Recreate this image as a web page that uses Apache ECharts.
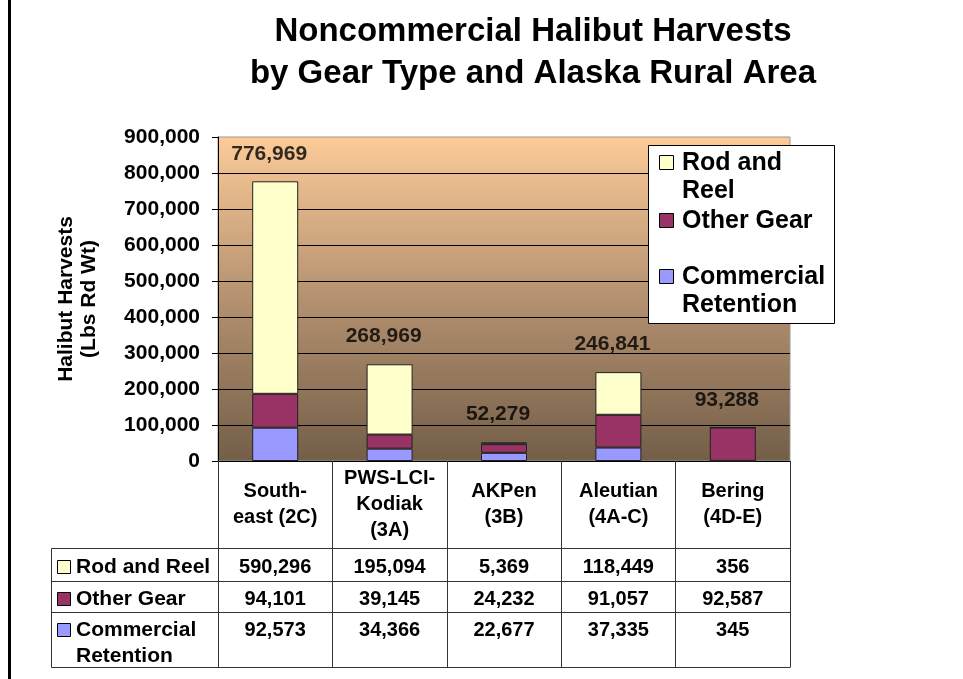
<!DOCTYPE html>
<html>
<head>
<meta charset="utf-8">
<script src="https://cdn.jsdelivr.net/npm/echarts@6/dist/echarts.min.js"></script>
<style>
html,body{margin:0;padding:0;background:#fff;}
#chart{width:963px;height:679px;}
</style>
</head>
<body>
<div id="chart"></div>
<script>
const categories = ['South-\neast (2C)', 'PWS-LCI-\nKodiak\n(3A)', 'AKPen\n(3B)', 'Aleutian\n(4A-C)', 'Bering\n(4D-E)'];
const rodAndReel = [590296, 195094, 5369, 118449, 356];
const otherGear = [94101, 39145, 24232, 91057, 92587];
const commercialRetention = [92573, 34366, 22677, 37335, 345];
const totals = [776969, 268969, 52279, 246841, 93288];
const yMin = 0, yMax = 900000, yInterval = 100000;

const FONT = 'Liberation Sans, Arial, sans-serif';
const colors = { rod: '#FFFFCC', other: '#993366', comm: '#9999FF' };
const fmt = v => v.toLocaleString('en-US');

const chart = echarts.init(document.getElementById('chart'));
const barStyle = c => ({ color: c, borderColor: '#222', borderWidth: 1 });

chart.setOption({
  animation: false,
  title: {
    text: 'Noncommercial Halibut Harvests\nby Gear Type and Alaska Rural Area',
    left: 528, top: 6, textAlign: 'center',
    textStyle: { fontFamily: FONT, fontSize: 33, fontWeight: 'bold', color: '#000', lineHeight: 42 }
  },
  grid: {
    left: 218, right: 173, top: 137, bottom: 218,
    show: true, borderColor: '#999', borderWidth: 1,
    backgroundColor: new echarts.graphic.LinearGradient(0, 0, 0, 1, [
      { offset: 0, color: '#FCCB98' }, { offset: 0.5, color: '#B49170' }, { offset: 1, color: '#735E48' }
    ])
  },
  xAxis: {
    type: 'category', data: categories,
    axisLine: { show: true, lineStyle: { color: '#000', width: 1 } },
    axisTick: { show: true, length: 206, lineStyle: { color: '#333', width: 1 } },
    axisLabel: { margin: 43, verticalAlign: 'middle', fontFamily: FONT, fontSize: 20, fontWeight: 'bold', color: '#000', lineHeight: 26, interval: 0 },
    splitLine: { show: false }
  },
  yAxis: {
    type: 'value', min: yMin, max: yMax, interval: yInterval,
    name: 'Halibut Harvests\n(Lbs Rd Wt)', nameLocation: 'middle', nameRotate: 90, nameGap: 117,
    nameTextStyle: { fontFamily: FONT, fontSize: 21, fontWeight: 'bold', color: '#000', lineHeight: 23 },
    axisLine: { show: true, lineStyle: { color: '#000', width: 1 } },
    axisTick: { show: true, length: 6, lineStyle: { color: '#000' } },
    axisLabel: { margin: 18, fontFamily: FONT, fontSize: 21, fontWeight: 'bold', color: '#000', formatter: v => fmt(v) },
    splitLine: { show: true, showMaxLine: false, lineStyle: { color: '#000', width: 1 } }
  },
  series: [
    { name: 'Commercial Retention', type: 'bar', stack: 'g', data: commercialRetention, barWidth: 46, itemStyle: barStyle(colors.comm) },
    { name: 'Other Gear', type: 'bar', stack: 'g', data: otherGear, barWidth: 46, itemStyle: barStyle(colors.other) },
    { name: 'Rod and Reel', type: 'bar', stack: 'g', data: rodAndReel, barWidth: 46, itemStyle: barStyle(colors.rod) },
    {
      name: 'Total', type: 'scatter', data: totals, symbolSize: 0, z: 10,
      label: { show: true, position: 'top', distance: 17, offset: [-6, 0], formatter: p => fmt(p.value),
        fontFamily: FONT, fontSize: 21, fontWeight: 'bold', color: '#000' }
    }
  ]
});

// Frame, legend box and data table
const g = [];
g.push({ type: 'rect', shape: { x: 8, y: 0, width: 3, height: 679 }, style: { fill: '#000' }, z: 100 });

// Legend
g.push({ type: 'rect', shape: { x: 648.5, y: 145.5, width: 186, height: 178 }, style: { fill: '#fff', stroke: '#000', lineWidth: 1 }, z: 100 });
const legendItems = [
  { c: colors.rod, lines: ['Rod and', 'Reel'], y: 163 },
  { c: colors.other, lines: ['Other Gear'], y: 221 },
  { c: colors.comm, lines: ['Commercial', 'Retention'], y: 277 }
];
legendItems.forEach(it => {
  g.push({ type: 'rect', shape: { x: 659.5, y: it.y - 7.5, width: 14, height: 14 }, style: { fill: it.c, stroke: '#000', lineWidth: 1 }, z: 101 });
  it.lines.forEach((t, k) => {
    g.push({ type: 'text', x: 682, y: it.y + k * 28.5, style: { text: t, fill: '#000', font: 'bold 25px ' + FONT, verticalAlign: 'middle', align: 'left' }, z: 101 });
  });
});

// Table
const tableLeft = 51.5, tableRight = 790.5;
const hLines = [548.5, 581.5, 612.5, 667.5];
hLines.forEach(y => g.push({ type: 'line', shape: { x1: tableLeft, y1: y, x2: tableRight, y2: y }, style: { stroke: '#333', lineWidth: 1 }, z: 100 }));
g.push({ type: 'line', shape: { x1: tableLeft, y1: 548.5, x2: tableLeft, y2: 667.5 }, style: { stroke: '#333', lineWidth: 1 }, z: 100 });

const rows = [
  { name: ['Rod and Reel'], c: colors.rod, data: rodAndReel, y: 567 },
  { name: ['Other Gear'], c: colors.other, data: otherGear, y: 599 },
  { name: ['Commercial', 'Retention'], c: colors.comm, data: commercialRetention, y: 630 }
];
rows.forEach(r => {
  g.push({ type: 'rect', shape: { x: 57.5, y: r.y - 6.5, width: 13, height: 13 }, style: { fill: r.c, stroke: '#000', lineWidth: 1 }, z: 101 });
  r.name.forEach((t, k) => {
    g.push({ type: 'text', x: 76, y: r.y + k * 26, style: { text: t, fill: '#000', font: 'bold 21px ' + FONT, verticalAlign: 'middle', align: 'left' }, z: 101 });
  });
  r.data.forEach((v, i) => {
    const cx = chart.convertToPixel({ xAxisIndex: 0 }, i);
    g.push({ type: 'text', x: cx, y: r.y, style: { text: fmt(v), fill: '#000', font: 'bold 20px ' + FONT, verticalAlign: 'middle', align: 'center' }, z: 101 });
  });
});

chart.setOption({ graphic: g });
</script>
</body>
</html>
